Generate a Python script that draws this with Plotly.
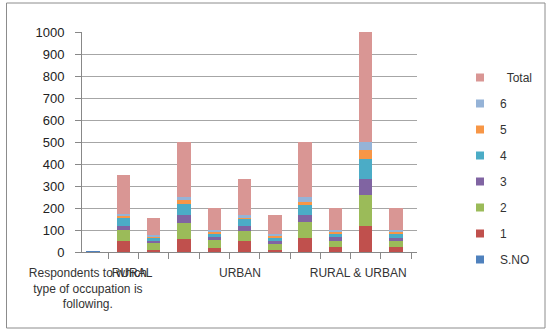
import plotly.graph_objects as go

categories = ["c0", "c1", "c2", "c3", "c4", "c5", "c6", "c7", "c8", "c9", "c10"]
series_names = ["S.NO", "1", "2", "3", "4", "5", "6", "Total"]
s_no  = [3, 0, 0, 0, 0, 0, 0, 0, 0, 0, 0]
s1    = [0, 48, 10, 57, 20, 52, 10, 62, 24, 120, 22]
s2    = [0, 50, 30, 73, 33, 42, 27, 73, 28, 140, 27]
s3    = [0, 22, 12, 38, 14, 23, 12, 31, 14, 70, 15]
s4    = [0, 35, 15, 50, 18, 31, 18, 48, 18, 95, 16]
s5    = [0, 12, 5, 20, 9, 11, 8, 14, 7, 40, 11]
s6    = [0, 8, 5, 12, 6, 8, 8, 22, 9, 35, 9]
total = [0, 175, 77, 250, 100, 167, 83, 250, 100, 500, 100]

group_labels = ["Respondents to which<br>type of occupation is<br>following.", "RURAL", "URBAN", "RURAL &amp; URBAN"]
group_pos = [-0.17, 1.29, 4.85, 8.75]

colors = ["#4F81BD", "#C0504D", "#9BBB59", "#8064A2", "#4BACC6", "#F79646", "#95B3D7", "#D99694"]
values = [s_no, s1, s2, s3, s4, s5, s6, total]

fig = go.Figure()
for name, vals, col in zip(series_names, values, colors):
    fig.add_trace(go.Bar(x=categories, y=vals, name=name, marker=dict(color=col, line=dict(width=0)),
                         showlegend=False))
legend_names = ["S.NO", "1", "2", "3", "4", "5", "6", "\u00a0\u00a0Total"]
n = len(legend_names)
for k, (name, col) in enumerate(zip(legend_names, colors)):
    fig.add_trace(go.Scatter(x=[None], y=[None], mode="markers", name=name, legendgroup=name,
                             legendrank=n - k,
                             marker=dict(symbol="square", size=8, color=col)))

L, R, T, B = 82, 132, 32, 78
W, H = 549, 330
pw, ph = W - L - R, H - T - B

fig.update_layout(
    width=W, height=H,
    margin=dict(l=L, r=R, t=T, b=B, autoexpand=False),
    barmode="stack",
    bargap=0.56,
    paper_bgcolor="white",
    plot_bgcolor="white",
    font=dict(family="Liberation Sans, Arial, sans-serif", size=12, color="#333333"),
    xaxis=dict(type="category", range=[-0.363, 10.69], showticklabels=False, automargin=False,
               ticks="outside", tickson="boundaries", ticklen=6, tickcolor="#888888",
               showline=True, linecolor="#888888", linewidth=1, showgrid=False),
    xaxis2=dict(overlaying="x", range=[-0.363, 10.69], tickvals=group_pos, ticktext=group_labels,
                side="bottom", showline=False, showgrid=False, ticks="", zeroline=False,
                tickangle=0, automargin=False,
                tickfont=dict(size=12, color="#333333"), ticklabelstandoff=12),
    yaxis=dict(range=[0, 1000], tickvals=list(range(0, 1001, 100)), showline=True, automargin=False,
               linecolor="#888888", linewidth=1, ticks="outside", ticklen=6, tickcolor="#888888",
               gridcolor="#A6A6A6", gridwidth=1, zeroline=False,
               tickfont=dict(size=13, color="#222222"), ticklabelstandoff=8),
    legend=dict(x=(460 - L) / pw, y=(252 - 63) / ph, xanchor="left", yanchor="top",
                traceorder="grouped", tracegroupgap=7, maxheight=1,
                font=dict(size=12, color="#333333"), bgcolor="rgba(0,0,0,0)"),
    shapes=[dict(type="rect", xref="paper", yref="paper",
                 x0=(6.5 - L) / pw, x1=(545 - L) / pw, y0=(252 - 328) / ph, y1=(252 - 3) / ph,
                 line=dict(color="#8C8C8C", width=1))],
)
fig.add_trace(go.Scatter(x=[None], y=[None], xaxis="x2", showlegend=False))
fig.write_html("out.html")
